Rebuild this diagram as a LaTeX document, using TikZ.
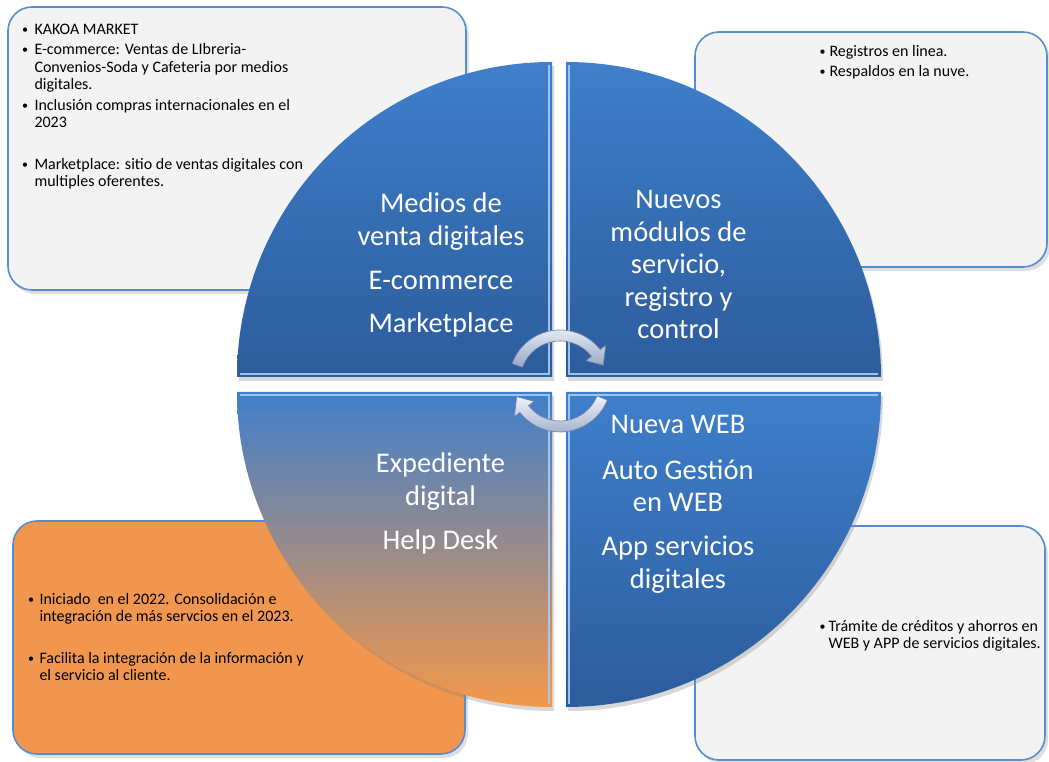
\documentclass[tikz,border=0pt]{standalone}
\usepackage{fontspec}
\setmainfont{Carlito}
\usetikzlibrary{shadows}
\definecolor{qtop}{RGB}{63,127,203}
\definecolor{qbot}{RGB}{44,92,156}
\definecolor{qorange}{RGB}{243,152,74}
\definecolor{boxfill}{RGB}{243,243,243}
\definecolor{boxline}{RGB}{88,140,208}
\definecolor{orfill}{RGB}{240,150,78}
\definecolor{arrlight}{RGB}{240,243,249}
\definecolor{arrdark}{RGB}{150,167,198}
\definecolor{arredge}{RGB}{110,130,166}
\definecolor{hilite}{RGB}{168,204,246}
\begin{document}
\begin{tikzpicture}[x=1pt,y=1pt,
  infobox/.style={draw=boxline, line width=1.6pt, rounded corners=24pt,
    drop shadow={shadow xshift=3pt, shadow yshift=-4pt, opacity=0.25}},
  quad/.style={top color=qtop, bottom color=qbot,
    drop shadow={shadow xshift=2pt, shadow yshift=-4pt, opacity=0.3}},
  quador/.style={top color=qtop, bottom color=qorange,
    drop shadow={shadow xshift=2pt, shadow yshift=-4pt, opacity=0.3}},
  hl/.style={draw=hilite, line width=1.6pt, opacity=0.9},
  arrowshape/.style={top color=arrlight, bottom color=arrdark, draw=arredge, line width=0.6pt},
  bodytxt/.style={font=\fontsize{16}{17.3}\selectfont, anchor=base west, inner sep=0pt, text=black},
  bul/.style={font=\fontsize{12}{14}\selectfont, anchor=base, inner sep=0pt, text=black},
  qtxt/.style={font=\fontsize{28.5}{32.5}\selectfont, text=white, anchor=base, inner sep=0pt}
]
\useasboundingbox (0,0) rectangle (1049,762);
\fill[white] (0,0) rectangle (1049,762);

% info boxes
\path[infobox, fill=boxfill] (8,472) rectangle (466,755);
\path[infobox, fill=boxfill] (695,495) rectangle (1047,730);
\path[infobox, fill=orfill] (13,8) rectangle (465,241);
\path[infobox, fill=boxfill] (695,2) rectangle (1045,236);

% quadrants
\path[quad] (552,385) -- (237,385) arc[start angle=180, end angle=90, radius=315] -- cycle;
\path[quad] (566,385) -- (566,700) arc[start angle=90, end angle=0, radius=315] -- cycle;
\path[quador] (552,370) -- (237,370) arc[start angle=180, end angle=270, radius=315] -- cycle;
\path[quad] (566,370) -- (881,370) arc[start angle=0, end angle=-90, radius=315] -- cycle;

% bevel highlights
\draw[hl] (240,388) -- (549,388) -- (549,697);
\draw[hl] (569,697) -- (569,388) -- (878,388);
\draw[hl] (240,367) -- (549,367) -- (549,58);
\draw[hl] (569,58) -- (569,367) -- (878,367);

% cycle arrows
\begin{scope}[shift={(560,381)}]
  \path[arrowshape] (160:51) arc[start angle=160, end angle=38, radius=51]
    -- (38:58) -- (20:46) -- (38:33) -- (38:40)
    arc[start angle=38, end angle=160, radius=40] -- cycle;
  \path[arrowshape] (-22:51) arc[start angle=-22, end angle=-142, radius=51]
    -- (-142:58) -- (-160:46) -- (-142:33) -- (-142:40)
    arc[start angle=-142, end angle=-22, radius=40] -- cycle;
\end{scope}

% quadrant texts
\node[qtxt] (q1a) at (441,549) {Medios de};
\node[qtxt] (q1b) at (441,516) {venta digitales};
\node[qtxt] (q1c) at (441,472) {E-commerce};
\node[qtxt] (q1d) at (441,429) {Marketplace};

\node[qtxt] (q2a) at (678.5,553) {Nuevos};
\node[qtxt] (q2b) at (678.5,520.5) {módulos de};
\node[qtxt] (q2c) at (678.5,488) {servicio,};
\node[qtxt] (q2d) at (678.5,455.5) {registro y};
\node[qtxt] (q2e) at (678.5,423) {control};

\node[qtxt] (q3a) at (440.5,289) {Expediente};
\node[qtxt] (q3b) at (440.5,256.3) {digital};
\node[qtxt] (q3c) at (440.5,212) {Help Desk};

\node[qtxt] (q4a) at (678,328) {Nueva WEB};
\node[qtxt] (q4b) at (678,282.7) {Auto Gestión};
\node[qtxt] (q4c) at (678,250.3) {en WEB};
\node[qtxt] (q4d) at (678,206.3) {App servicios};
\node[qtxt] (q4e) at (678,173.7) {digitales};

% top-left box text
\node[bul] (b11) at (25,728) {\textbullet};
\node[bodytxt] (t11) at (34.3,727) {KAKOA MARKET};
\node[bul] (b12) at (25,708) {\textbullet};
\node[bodytxt] (t12) at (34.3,707) {E-commerce: Ventas de LIbreria-};
\node[bodytxt] (t13) at (34.3,689.5) {Convenios-Soda y Cafeteria por medios};
\node[bodytxt] (t14) at (34.3,672) {digitales.};
\node[bul] (b13) at (25,652) {\textbullet};
\node[bodytxt] (t15) at (34.3,651) {Inclusión compras internacionales en el};
\node[bodytxt] (t16) at (34.3,634) {2023};
\node[bul] (b14) at (25,593) {\textbullet};
\node[bodytxt] (t17) at (34.3,592) {Marketplace: sitio de ventas digitales con};
\node[bodytxt] (t18) at (34.3,575) {multiples oferentes.};

% top-right box text
\node[bul] (b21) at (822.7,706) {\textbullet};
\node[bodytxt] (t21) at (829.3,705) {Registros en linea.};
\node[bul] (b22) at (822.7,686) {\textbullet};
\node[bodytxt] (t22) at (829.3,685) {Respaldos en la nuve.};

% bottom-left box text
\node[bul] (b31) at (31,158) {\textbullet};
\node[bodytxt] (t31) at (39.3,157) {Iniciado\ \ en el 2022. Consolidación e};
\node[bodytxt] (t32) at (39.3,140) {integración de más servcios en el 2023.};
\node[bul] (b32) at (31,99) {\textbullet};
\node[bodytxt] (t33) at (39.3,98) {Facilita la integración de la información y};
\node[bodytxt] (t34) at (39.3,81) {el servicio al cliente.};

% bottom-right box text
\node[bul] (b41) at (822.7,131) {\textbullet};
\node[bodytxt] (t41) at (828.3,130) {Trámite de créditos y ahorros en};
\node[bodytxt] (t42) at (828.3,113) {WEB y APP de servicios digitales.};
\end{tikzpicture}
\end{document}
